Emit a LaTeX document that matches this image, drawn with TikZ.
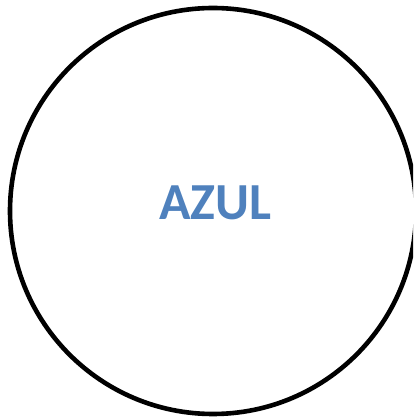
\documentclass[tikz,border=0pt]{standalone}
\usepackage{fontspec}
\setmainfont{Carlito}
\definecolor{azulc}{HTML}{4F81BD}
\begin{document}
\begin{tikzpicture}[x=1pt,y=1pt]
\useasboundingbox (0,0) rectangle (413,418);
\clip (0,0) rectangle (413,418);
\draw[line width=4.6pt] (213,207) circle[radius=203] coordinate (c);
\node[text=azulc,font=\fontsize{52}{60}\selectfont\bfseries,anchor=base] (t) at (215.5,198) {AZUL};
\end{tikzpicture}
\end{document}
